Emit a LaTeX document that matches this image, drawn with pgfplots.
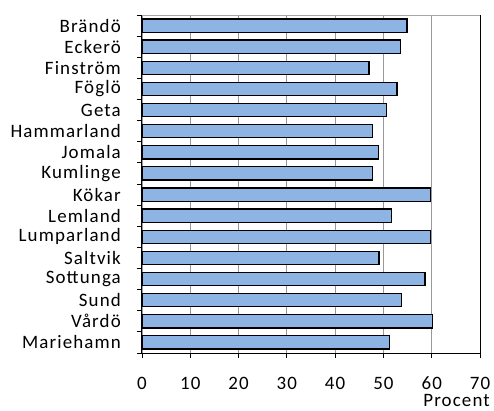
\documentclass[border=0pt]{standalone}
\usepackage{pgfplots}
\pgfplotsset{compat=1.18}
\usepackage{fontspec}
\setmainfont{Carlito}[LetterSpace=6]
\definecolor{barblue}{RGB}{142,180,227}
\begin{document}
\begin{tikzpicture}
\begin{axis}[
  scale only axis, width=338bp, height=338bp,
  xbar, bar width=0.63,
  xmin=0, xmax=70, ymin=-0.5, ymax=15.5, y dir=reverse,
  xtick={0,10,...,70},
  ytick={0,...,15},
  yticklabels={Brändö,Eckerö,Finström,Föglö,Geta,Hammarland,Jomala,Kumlinge,Kökar,Lemland,Lumparland,Saltvik,Sottunga,Sund,Vårdö,Mariehamn},
  minor ytick={-0.5,0.5,...,15.5},
  xtick pos=bottom, ytick pos=left,
  tick align=outside,
  major tick length=5bp, minor tick length=5bp,
  major y tick style={draw=none},
  x tick style={black, line width=0.8bp},
  minor y tick style={black, line width=0.8bp},
  xmajorgrids, major x grid style={gray!80, line width=0.8bp},
  axis line style={black, line width=1bp},
  /pgf/number format/assume math mode=true,
  tick label style={font=\fontsize{19}{21}\selectfont, inner sep=0pt},
  yticklabel style={anchor=east, xshift=-16bp},
  xticklabel style={anchor=base, yshift=-31bp},
  xlabel={Procent},
  xlabel style={font=\fontsize{19}{21}\selectfont, inner sep=0pt, at={(axis description cs:1,0)}, anchor=base east, xshift=10bp, yshift=-53bp},
  clip=false,
]
\addplot[fill=barblue, draw=black, line width=1.3bp] coordinates {
  (54.9,0) (53.6,1) (47.0,2) (52.8,3) (50.7,4) (47.8,5) (49.0,6) (47.8,7)
  (59.8,8) (51.6,9) (59.8,10) (49.1,11) (58.6,12) (53.7,13) (60.2,14) (51.2,15)
};
\draw[gray!70, line width=1bp] (axis description cs:0,1) -- (axis description cs:1,1);
\end{axis}
\pgfresetboundingbox
\path[use as bounding box] ([shift={(-142bp,-58bp)}]current axis.south west) rectangle ([shift={(14bp,15bp)}]current axis.north east);
\end{tikzpicture}
\end{document}
